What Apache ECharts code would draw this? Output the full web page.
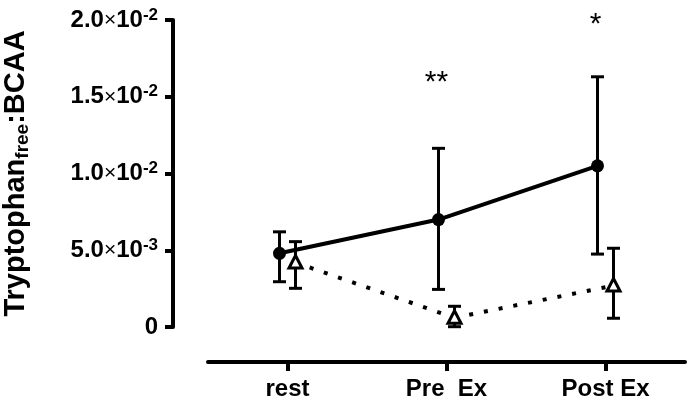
<!DOCTYPE html>
<html>
<head>
<meta charset="utf-8">
<script src="https://cdn.jsdelivr.net/npm/echarts@6/dist/echarts.min.js"></script>
<style>
html,body{margin:0;padding:0;background:#fff;}
#chart{width:689px;height:410px;}
</style>
</head>
<body>
<div id="chart"></div>
<script>
const categories = ['rest', 'Pre  Ex', 'Post Ex'];
const exMean = [0.0048, 0.0070, 0.0105];
const exLow = [0.00295, 0.00245, 0.00475];
const exHigh = [0.0062, 0.01164, 0.0163];
const conMean = [0.0042, 0.0006, 0.0027];
const conLow = [0.00252, 0.00002, 0.00057];
const conHigh = [0.00556, 0.00135, 0.00513];
const sigMarks = ['', '**', '*'];
const sigY = [null, 0.0159, 0.0197];
const yTickValues = [0, 0.005, 0.01, 0.015, 0.02];
const yTickMantissa = ['0', '5.0', '1.0', '1.5', '2.0'];
const yTickExp = ['', '-3', '-2', '-2', '-2'];

const FONT = 'Liberation Sans';

function makeRender(means, dx, kind) {
  return function (params, api) {
    const i = params.dataIndex;
    const p = api.coord([api.value(0), api.value(1)]);
    const lo = api.coord([api.value(0), api.value(2)]);
    const hi = api.coord([api.value(0), api.value(3)]);
    const x = p[0] + dx, y = p[1];
    const children = [];
    if (i > 0) {
      const q = api.coord([i - 1, means[i - 1]]);
      children.push({
        type: 'line', z2: 1,
        shape: { x1: q[0] + dx, y1: q[1], x2: x, y2: y },
        style: kind === 'circle'
          ? { stroke: '#000', lineWidth: 4 }
          : { stroke: '#000', lineWidth: 4, lineDash: [4, 11], lineCap: 'butt' }
      });
    }
    const cap = 6.5;
    children.push({ type: 'line', z2: 2, shape: { x1: x, y1: lo[1], x2: x, y2: hi[1] }, style: { stroke: '#000', lineWidth: 3 } });
    children.push({ type: 'line', z2: 2, shape: { x1: x - cap, y1: lo[1], x2: x + cap, y2: lo[1] }, style: { stroke: '#000', lineWidth: 3 } });
    children.push({ type: 'line', z2: 2, shape: { x1: x - cap, y1: hi[1], x2: x + cap, y2: hi[1] }, style: { stroke: '#000', lineWidth: 3 } });
    if (kind === 'circle') {
      children.push({ type: 'circle', z2: 3, shape: { cx: x, cy: y, r: 6.5 }, style: { fill: '#000' } });
    } else {
      children.push({
        type: 'polygon', z2: 3,
        shape: { points: [[x, y - 7], [x + 6.5, y + 5.5], [x - 6.5, y + 5.5]] },
        style: { fill: '#fff', stroke: '#000', lineWidth: 3, lineJoin: 'miter' }
      });
    }
    return { type: 'group', children: children };
  };
}

const chart = echarts.init(document.getElementById('chart'), null, { renderer: 'canvas' });
const option = {
  backgroundColor: '#fff',
  animation: false,
  grid: { left: 208, right: 4, top: 20, bottom: 83, containLabel: false, outerBoundsMode: 'none' },
  xAxis: {
    type: 'category',
    data: categories,
    position: 'bottom',
    offset: 35,
    axisLine: { show: true, onZero: false, lineStyle: { color: '#000', width: 4 } },
    axisTick: { show: true, alignWithLabel: true, length: 9, lineStyle: { color: '#000', width: 4 } },
    axisLabel: { color: '#000', fontFamily: FONT, fontWeight: 'bold', fontSize: 24, margin: 15 },
    splitLine: { show: false }
  },
  yAxis: {
    type: 'value',
    min: 0, max: 0.02, interval: 0.005,
    offset: 35,
    axisLine: { show: true, onZero: false, lineStyle: { color: '#000', width: 4 } },
    axisTick: { show: true, length: 8, lineStyle: { color: '#000', width: 4 } },
    splitLine: { show: false },
    axisLabel: {
      margin: 15,
      formatter: function (v) {
        let k = -1;
        for (let j = 0; j < yTickValues.length; j++) if (Math.abs(yTickValues[j] - v) < 1e-9) k = j;
        if (k < 0) return '';
        if (!yTickExp[k]) return '{m|' + yTickMantissa[k] + '}';
        return '{m|' + yTickMantissa[k] + '}{x|\u00d7}{m|10}{s|' + yTickExp[k] + '}';
      },
      rich: {
        m: { fontFamily: FONT, fontWeight: 'bold', fontSize: 24, color: '#000', lineHeight: 27 },
        x: { fontFamily: FONT, fontSize: 21, color: '#000', lineHeight: 27 },
        s: { fontFamily: FONT, fontWeight: 'bold', fontSize: 17, color: '#000', verticalAlign: 'top', lineHeight: 16 }
      }
    },
    name: '{m|Tryptophan}{s|free}{m|:BCAA}',
    nameLocation: 'middle',
    nameGap: 141,
    nameTextStyle: {
      rich: {
        m: { fontFamily: FONT, fontWeight: 'bold', fontSize: 29, color: '#000', lineHeight: 32 },
        s: { fontFamily: FONT, fontWeight: 'bold', fontSize: 19, color: '#000', verticalAlign: 'bottom', lineHeight: 19 }
      }
    }
  },
  series: [
    {
      type: 'custom',
      name: 'ex',
      renderItem: makeRender(exMean, -8, 'circle'),
      encode: { x: 0, y: [1, 2, 3] },
      data: exMean.map((m, i) => [i, m, exLow[i], exHigh[i]]),
      clip: false, z: 3
    },
    {
      type: 'custom',
      name: 'con',
      renderItem: makeRender(conMean, 8, 'triangle'),
      encode: { x: 0, y: [1, 2, 3] },
      data: conMean.map((m, i) => [i, m, conLow[i], conHigh[i]]),
      clip: false, z: 2
    },
    {
      type: 'custom',
      name: 'sig',
      renderItem: function (params, api) {
        const i = params.dataIndex;
        if (!sigMarks[i]) return null;
        const p = api.coord([api.value(0), api.value(1)]);
        return {
          type: 'text',
          style: {
            text: sigMarks[i], x: p[0] - 10, y: p[1],
            fontFamily: FONT, fontSize: 30, fill: '#000',
            align: 'center', verticalAlign: 'middle'
          }
        };
      },
      encode: { x: 0, y: 1 },
      data: sigY.map((v, i) => [i, v == null ? 0 : v]),
      clip: false, z: 4
    }
  ]
};
chart.setOption(option);
</script>
</body>
</html>
